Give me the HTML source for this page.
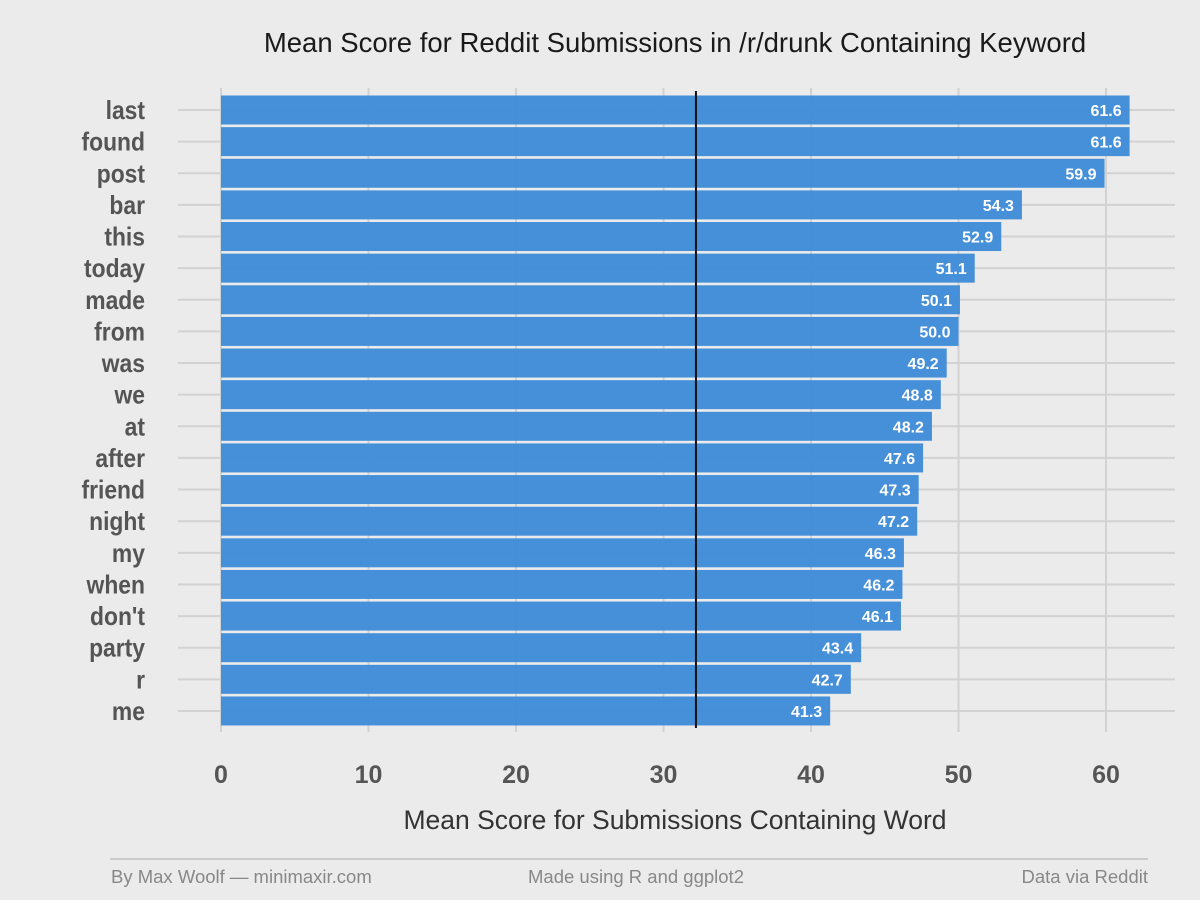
<!DOCTYPE html>
<html><head><meta charset="utf-8"><style>
html,body{margin:0;padding:0;background:#ebebeb;}
svg{display:block;}
.cond{font-family:"Liberation Sans Narrow","Liberation Sans",sans-serif;font-weight:bold;}
.reg{font-family:"Liberation Sans",sans-serif;}
</style></head><body>
<svg id="chart" width="1200" height="900" xmlns="http://www.w3.org/2000/svg">
<rect width="1200" height="900" fill="#ebebeb"/>
<text x="675" y="52" text-anchor="middle" class="reg" font-size="27.5" fill="#1a1a1a">Mean Score for Reddit Submissions in /r/drunk Containing Keyword</text>
<g id="grid"></g><g id="bars"></g><g id="labels"></g>
<text x="675" y="829" text-anchor="middle" class="reg" font-size="26.5" fill="#333">Mean Score for Submissions Containing Word</text>
<line x1="110" x2="1148" y1="859" y2="859" stroke="#aaa" stroke-width="1"/>
<text x="111" y="883" class="reg" font-size="18.5" fill="#888">By Max Woolf — minimaxir.com</text>
<text x="636" y="883" text-anchor="middle" class="reg" font-size="18.5" fill="#888">Made using R and ggplot2</text>
<text x="1148" y="883" text-anchor="end" class="reg" font-size="18.5" fill="#888">Data via Reddit</text>
</svg>
<script>
const categories=["last","found","post","bar","this","today","made","from","was","we","at","after","friend","night","my","when","don't","party","r","me"];
const values=[61.6,61.6,59.9,54.3,52.9,51.1,50.1,50.0,49.2,48.8,48.2,47.6,47.3,47.2,46.3,46.2,46.1,43.4,42.7,41.3];
const xTicks=[0,10,20,30,40,50,60];
const refValue=32.2;
const NS="http://www.w3.org/2000/svg";
const x=v=>221+v*14.75;
const y=i=>110+i*31.63;
function mk(tag,attrs,parent,text){const e=document.createElementNS(NS,tag);for(const k in attrs)e.setAttribute(k,attrs[k]);if(text!==undefined)e.textContent=text;parent.appendChild(e);return e;}
const grid=document.getElementById('grid'),bars=document.getElementById('bars'),labels=document.getElementById('labels');
xTicks.forEach(t=>{
 const l=mk('line',{x1:x(t),x2:x(t),y1:88,y2:732,stroke:'#d2d2d2','stroke-width':2},grid);
 
 
 const tx=mk('text',{x:x(t),y:783,'text-anchor':'middle','font-size':25,fill:'#555',class:'cond'},labels,String(t));
 
 
});
categories.forEach((c,i)=>{
 const g=mk('line',{x1:178,x2:1175,y1:y(i),y2:y(i),stroke:'#d2d2d2','stroke-width':2},grid);
 
 
 const b=mk('rect',{x:x(0),y:y(i)-14.5,width:x(values[i])-x(0),height:29,fill:'#3d8bd9','fill-opacity':0.95},bars);
 
 
 const v=mk('text',{x:x(values[i])-8,y:y(i)+6,'text-anchor':'end','font-size':16,fill:'#fff',class:'cond'},bars,values[i].toFixed(1));
 
 
 const lt=mk('text',{x:145,y:y(i)+9,'text-anchor':'end','font-size':26,fill:'#555',class:'cond',transform:'translate(145 0) scale(0.88 1) translate(-145 0)'},labels,c);
 
 
});
const r=mk('line',{x1:x(refValue),x2:x(refValue),y1:91,y2:728,stroke:'#111','stroke-width':2},bars);


</script>
</body></html>
